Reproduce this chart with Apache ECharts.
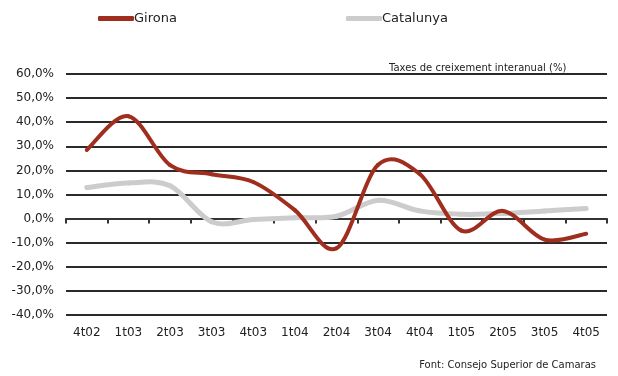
<!DOCTYPE html>
<html><head><meta charset="utf-8">
<script src="https://cdn.jsdelivr.net/npm/echarts@6/dist/echarts.min.js"></script>
<style>html,body{margin:0;padding:0;background:#fff}#c{width:618px;height:376px}</style>
</head><body><div id="c"></div>
<script>
const categories = ['4t02','1t03','2t03','3t03','4t03','1t04','2t04','3t04','4t04','1t05','2t05','3t05','4t05'];
const girona = [28.5, 42.5, 22.2, 18.4, 15.2, 3.5, -12.3, 22.3, 18.5, -5, 3.2, -8.7, -6.3];
const catalunya = [12.9, 14.8, 13.6, -1.3, -0.4, 0.4, 1, 7.6, 3.2, 1.8, 2.1, 3.2, 4.2];
const yTicks = {min: -40, max: 60, interval: 10};

const font = 'DejaVu Sans';
const RED = '#a02e1e', GREY = '#cccccc';

// Catmull-Rom style smoothing (as in the original spreadsheet chart), drawn through the axis scales
function smoothLine(values, color, width) {
  return function (params, api) {
    const i = params.dataIndex;
    if (i >= values.length - 1) return null;
    const pt = k => api.coord([Math.max(0, Math.min(values.length - 1, k)), values[Math.max(0, Math.min(values.length - 1, k))]]);
    const p0 = pt(i - 1), p1 = pt(i), p2 = pt(i + 1), p3 = pt(i + 2);
    return {
      type: 'bezierCurve',
      shape: {
        x1: p1[0], y1: p1[1], x2: p2[0], y2: p2[1],
        cpx1: p1[0] + (p2[0] - p0[0]) / 6, cpy1: p1[1] + (p2[1] - p0[1]) / 6,
        cpx2: p2[0] - (p3[0] - p1[0]) / 6, cpy2: p2[1] - (p3[1] - p1[1]) / 6
      },
      style: {stroke: color, lineWidth: width, fill: null, lineCap: 'round'}
    };
  };
}

const off = {splitLine: {show: false}, splitArea: {show: false}, minorTick: {show: false}, minorSplitLine: {show: false}};

const chart = echarts.init(document.getElementById('c'));
chart.setOption({
  animation: false,
  textStyle: {fontFamily: font},
  title: [
    {text: 'Taxes de creixement interanual (%)', left: 384, top: 58,
     textStyle: {fontSize: 10, fontWeight: 'normal', color: '#222', fontFamily: font}},
    {text: 'Font: Consejo Superior de Camaras', right: 17, top: 355,
     textStyle: {fontSize: 10, fontWeight: 'normal', color: '#222', fontFamily: font}}
  ],
  legend: [
    {data: [{name: 'Girona', itemStyle: {color: RED}}], left: 93, top: 7, icon: 'roundRect', itemWidth: 36, itemHeight: 5,
     textStyle: {fontSize: 13, color: '#222', padding: [0,0,0,-5]}},
    {data: [{name: 'Catalunya', itemStyle: {color: GREY}}], left: 341, top: 7, icon: 'roundRect', itemWidth: 36, itemHeight: 5,
     textStyle: {fontSize: 13, color: '#222', padding: [0,0,0,-5]}}
  ],
  grid: {left: 66, right: 11, top: 74, bottom: 61},
  xAxis: [
    Object.assign({type: 'category', data: categories, position: 'bottom',
     axisLine: {show: false, onZero: false}, axisTick: {show: false},
     axisLabel: {fontSize: 12, color: '#222', margin: 12}}, off),
    Object.assign({type: 'category', data: categories, position: 'bottom',
     axisLine: {onZero: true, lineStyle: {color: '#333', width: 2}},
     axisTick: {show: true, length: 5, lineStyle: {color: '#333', width: 2}},
     axisLabel: {show: false}}, off)
  ],
  yAxis: {type: 'value', min: yTicks.min, max: yTicks.max, interval: yTicks.interval,
    axisLine: {show: false}, axisTick: {show: false},
    splitLine: {lineStyle: {color: '#2a2a2a', width: 2}},
    axisLabel: {fontSize: 12, color: '#222', margin: 12,
      formatter: v => v.toFixed(1).replace('.', ',') + '%'}},
  series: [
    {name: 'Catalunya', type: 'custom', data: catalunya.map((v, i) => [i, v]), encode: {x: 0, y: 1},
     itemStyle: {color: GREY}, z: 2, renderItem: smoothLine(catalunya, GREY, 5)},
    {name: 'Girona', type: 'custom', data: girona.map((v, i) => [i, v]), encode: {x: 0, y: 1},
     itemStyle: {color: RED}, z: 3, renderItem: smoothLine(girona, RED, 4)}
  ]
});
</script></body></html>
